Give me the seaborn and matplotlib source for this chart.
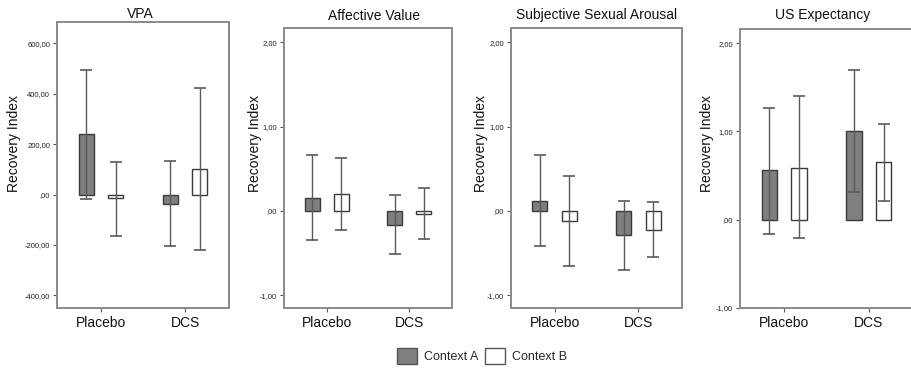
import matplotlib
matplotlib.use("Agg")
import matplotlib.pyplot as plt
from matplotlib.patches import Patch
from matplotlib.ticker import FuncFormatter
import seaborn as sns
import pandas as pd

sns.set_theme(style="white")
plt.rcParams['font.family'] = ['Liberation Sans', 'DejaVu Sans']

groups = ["Placebo", "DCS"]
contexts = ["Context A", "Context B"]
titles = ["VPA", "Affective Value", "Subjective Sexual Arousal", "US Expectancy"]

# means, order: Placebo A, Placebo B, DCS A, DCS B
vpa_mean = [240, -15, -37, 100]
vpa_lo = [-16, -165, -205, -221]
vpa_hi = [495, 130, 135, 424]

aff_mean = [0.16, 0.20, -0.16, -0.03]
aff_lo = [-0.34, -0.23, -0.51, -0.33]
aff_hi = [0.66, 0.63, 0.19, 0.27]

ssa_mean = [0.12, -0.12, -0.29, -0.23]
ssa_lo = [-0.41, -0.65, -0.70, -0.55]
ssa_hi = [0.66, 0.41, 0.12, 0.11]

use_mean = [0.56, 0.59, 1.00, 0.65]
use_lo = [-0.16, -0.21, 0.31, 0.21]
use_hi = [1.27, 1.40, 1.70, 1.08]

vpa_ticks = [-400, -200, 0, 200, 400, 600]
unit_ticks = [-1, 0, 1, 2]

panels = [
    (vpa_mean, vpa_lo, vpa_hi, vpa_ticks, (-450, 685)),
    (aff_mean, aff_lo, aff_hi, unit_ticks, (-1.15, 2.17)),
    (ssa_mean, ssa_lo, ssa_hi, unit_ticks, (-1.15, 2.17)),
    (use_mean, use_lo, use_hi, unit_ticks, (-1.0, 2.16)),
]

# axes frames in pixels: left, right, top, bottom
frames = [(57, 229, 22, 308), (284, 452, 28, 308), (511, 682, 28, 308), (740, 913, 29, 308)]
ylabel_x = [14, 255, 481, 707]
title_pos = [(140, 14.5), (374, 15.5), (597, 15.5), (823, 15.5)]
W, H = 911, 369

palette = {"Context A": "#7f7f7f", "Context B": "#ffffff"}


def spss_fmt(v, p):
    s = ("%.2f" % v).replace(".", ",")
    if abs(v) < 1:
        s = s.replace("0,", ",", 1)
    return s


fig = plt.figure(figsize=(W / 100, H / 100), dpi=100)

for i, (mean, lo, hi, ticks, ylim) in enumerate(panels):
    l, r, t, b = frames[i]
    ax = fig.add_axes([l / W, 1 - b / H, (r - l) / W, (b - t) / H])
    df = pd.DataFrame({
        "Group": [g for g in groups for _ in contexts],
        "Context": contexts * 2,
        "Mean": mean,
        "Lo": lo,
        "Hi": hi,
    })
    sns.barplot(data=df, x="Group", y="Mean", hue="Context", order=groups,
                hue_order=contexts, palette=palette, errorbar=None, width=0.7,
                gap=0.49, edgecolor="#3a3a3a", linewidth=1.0, legend=False, ax=ax)
    # error bars from the bar centres
    bars = sorted(ax.patches, key=lambda p: p.get_x())
    for bar, row in zip(bars, df.itertuples()):
        xc = bar.get_x() + bar.get_width() / 2
        ax.errorbar(xc, row.Mean, yerr=[[row.Mean - row.Lo], [row.Hi - row.Mean]],
                    fmt="none", ecolor="#5a5a5a", elinewidth=1.0, capsize=4.5,
                    capthick=1.2, zorder=5)
    ax.set_xlim(-0.52, 1.52)
    ax.set_ylim(*ylim)
    ax.set_yticks(ticks)
    ax.yaxis.set_major_formatter(FuncFormatter(spss_fmt))
    ax.tick_params(axis="y", labelsize=5.5, length=3, width=0.8, color="#555555",
                   left=True, pad=2, labelcolor="#222222")
    ax.tick_params(axis="x", labelsize=10, length=3, width=0.8, color="#555555",
                   bottom=True, pad=3, labelcolor="#111111")
    ax.set_xlabel("")
    ax.set_ylabel("")
    for s in ax.spines.values():
        s.set_color("#8a8a8a")
        s.set_linewidth(1.4)
    tx, ty = title_pos[i]
    fig.text(tx / W, 1 - ty / H, titles[i],
             ha="center", va="center", fontsize=10, color="#111111")
    fig.text(ylabel_x[i] / W, 1 - 143 / H, "Recovery Index", rotation=90,
             ha="center", va="center", fontsize=10, color="#111111")

handles = [Patch(facecolor=palette[c], edgecolor="#555555", linewidth=1.0) for c in contexts]
fig.legend(handles, contexts, loc="center", bbox_to_anchor=(482 / W, 1 - 356 / H),
           ncol=2, frameon=False, fontsize=9, handlelength=1.6, handleheight=1.6,
           handletextpad=0.5, columnspacing=0.6)

fig.savefig("out.png", dpi=100)
